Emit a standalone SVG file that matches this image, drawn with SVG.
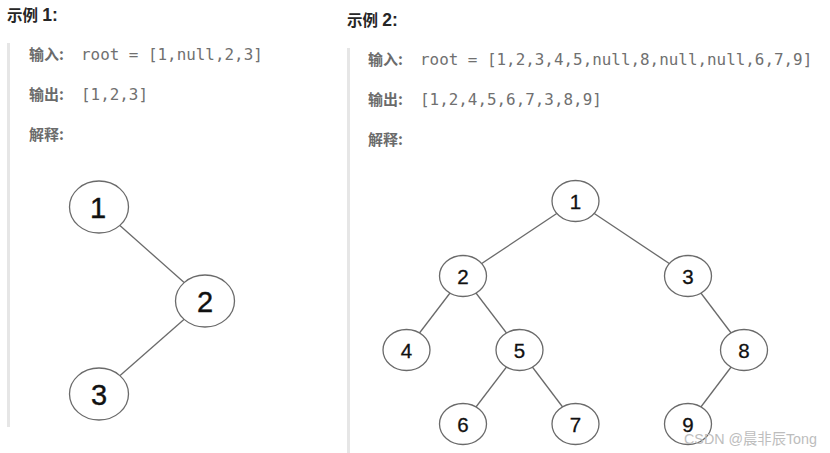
<svg xmlns="http://www.w3.org/2000/svg" width="830" height="453" viewBox="0 0 830 453">
<style>
.title{font-family:"Liberation Sans","Noto Sans CJK SC",sans-serif;font-size:15.5px;font-weight:bold;fill:#262626}
.big{font-size:17.5px}
.lab{font-family:"Noto Sans CJK SC",sans-serif;font-size:15px;font-weight:bold;fill:#6b6b6b}
.mono{font-family:"DejaVu Sans Mono","Liberation Mono",monospace;font-size:15.9px;fill:#707070}
.bar{fill:#e6e6e6}
.edge{stroke:#6a6a6a;stroke-width:1.3;fill:none}
.node{fill:#fff;stroke:#6a6a6a;stroke-width:1.3}
.numL{font-family:"Liberation Sans",Arial,sans-serif;font-size:29px;fill:#111;stroke:#111;stroke-width:0.4;text-anchor:middle}
.numR{font-family:"Liberation Sans",Arial,sans-serif;font-size:20.5px;fill:#111;stroke:#111;stroke-width:0.3;text-anchor:middle}
.wm{font-family:"Liberation Sans","Noto Sans CJK SC",sans-serif;font-size:15px;fill:#bdbdbd}
</style>
<rect width="830" height="453" fill="#fff"/>
<!-- example 1 -->
<text class="title" x="7" y="21">示例 <tspan class="big">1:</tspan></text>
<rect class="bar" x="7" y="43" width="3" height="384"/>
<text class="lab" x="29" y="60">输入:</text>
<text class="mono" x="81" y="60">root = [1,null,2,3]</text>
<text class="lab" x="29" y="100">输出:</text>
<text class="mono" x="81" y="100">[1,2,3]</text>
<text class="lab" x="29" y="140">解释:</text>
<!-- example 2 -->
<text class="title" x="347" y="26">示例 <tspan class="big">2:</tspan></text>
<rect class="bar" x="347" y="48" width="3" height="405"/>
<text class="lab" x="368" y="65">输入:</text>
<text class="mono" x="420" y="65">root = [1,2,3,4,5,null,8,null,null,6,7,9]</text>
<text class="lab" x="368" y="105">输出:</text>
<text class="mono" x="420" y="105">[1,2,4,5,6,7,3,8,9]</text>
<text class="lab" x="368" y="145">解释:</text>
<g id="connectors">
<line class="edge" x1="99" y1="207" x2="205" y2="301"/>
<line class="edge" x1="205" y1="301" x2="99" y2="394"/>
<line class="edge" x1="575.5" y1="201" x2="463" y2="276"/>
<line class="edge" x1="575.5" y1="201" x2="688" y2="276"/>
<line class="edge" x1="463" y1="276" x2="406.5" y2="350"/>
<line class="edge" x1="463" y1="276" x2="519.5" y2="350"/>
<line class="edge" x1="688" y1="276" x2="744" y2="350"/>
<line class="edge" x1="519.5" y1="350" x2="463" y2="424"/>
<line class="edge" x1="519.5" y1="350" x2="575.5" y2="424"/>
<line class="edge" x1="744" y1="350" x2="688" y2="424"/>
</g>
<g id="L1"><ellipse class="node" cx="99" cy="207" rx="29.5" ry="26"/><text class="numL" x="98" y="217.5">1</text></g>
<g id="L2"><ellipse class="node" cx="205" cy="301" rx="29.5" ry="26"/><text class="numL" x="205" y="311.5">2</text></g>
<g id="L3"><ellipse class="node" cx="99" cy="394" rx="29.5" ry="26"/><text class="numL" x="99" y="404.5">3</text></g>
<g id="R1"><ellipse class="node" cx="575.5" cy="201" rx="23.5" ry="20.5"/><text class="numR" x="575.5" y="208.5">1</text></g>
<g id="R2"><ellipse class="node" cx="463" cy="276" rx="23.5" ry="20.5"/><text class="numR" x="463" y="283.5">2</text></g>
<g id="R3"><ellipse class="node" cx="688" cy="276" rx="23.5" ry="20.5"/><text class="numR" x="688" y="283.5">3</text></g>
<g id="R4"><ellipse class="node" cx="406.5" cy="350" rx="23.5" ry="20.5"/><text class="numR" x="406.5" y="357.5">4</text></g>
<g id="R5"><ellipse class="node" cx="519.5" cy="350" rx="23.5" ry="20.5"/><text class="numR" x="519.5" y="357.5">5</text></g>
<g id="R8"><ellipse class="node" cx="744" cy="350" rx="23.5" ry="20.5"/><text class="numR" x="744" y="357.5">8</text></g>
<g id="R6"><ellipse class="node" cx="463" cy="424" rx="23.5" ry="20.5"/><text class="numR" x="463" y="431.5">6</text></g>
<g id="R7"><ellipse class="node" cx="575.5" cy="424" rx="23.5" ry="20.5"/><text class="numR" x="575.5" y="431.5">7</text></g>
<g id="R9"><ellipse class="node" cx="688" cy="424" rx="23.5" ry="20.5"/><text class="numR" x="688" y="431.5">9</text></g>
<text class="wm" x="684" y="444" textLength="133" lengthAdjust="spacingAndGlyphs">CSDN @晨非辰Tong</text>
</svg>
